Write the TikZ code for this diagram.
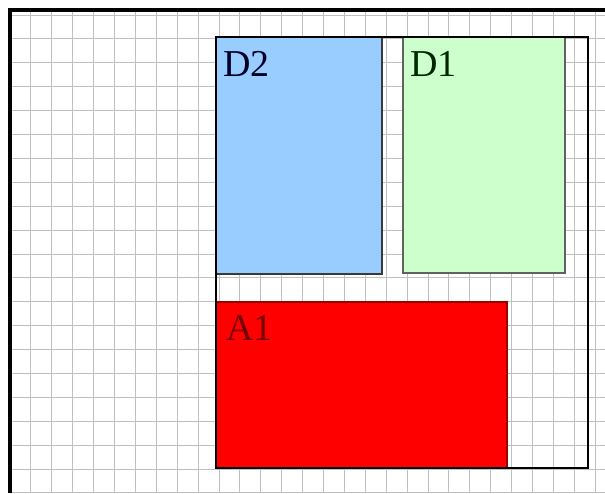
\documentclass[tikz,border=0pt]{standalone}
\usepackage{fontspec}
\setmainfont{Liberation Serif}
\definecolor{gridgray}{HTML}{C0C0C0}
\definecolor{dblue}{HTML}{99CCFF}
\definecolor{dgreen}{HTML}{CCFFCC}
\definecolor{ared}{HTML}{FF0000}
\definecolor{edgegray}{HTML}{3A3A3A}
\tikzset{
  gridline/.style={draw=gridgray, line width=1pt},
  region/.style={draw=edgegray, line width=1.5pt, anchor=north west, inner sep=0pt, outer sep=0pt},
  tag/.style={anchor=base west, inner sep=0pt, font=\fontsize{38}{42}\selectfont},
  container/.style={draw=black, line width=2.5pt, anchor=north west, inner sep=0pt, outer sep=0pt},
}
\begin{document}
\begin{tikzpicture}[x=1pt,y=-1pt]
\useasboundingbox (0,0) rectangle (605,493);
\fill[white] (0,0) rectangle (605,493);
% grid
\foreach \k in {1,...,28} {
  \draw[gridline] ({10+20.9*\k},12) -- ({10+20.9*\k},493);
}
\foreach \k in {0,...,20} {
  \draw[gridline] (12,{15.1+23.89*\k}) -- (605,{15.1+23.89*\k});
}
% outer frame (top and left)
\coordinate (ftr) at (605,10);
\coordinate (ftl) at (10,10);
\coordinate (fbl) at (10,493);
\draw[black, line width=4pt] (ftr) -- (ftl) -- (fbl);
% regions
\node[region, fill=dblue, minimum width=166pt, minimum height=237pt] (D2) at (216,37) {};
\node[region, fill=dgreen, draw=edgegray!80, minimum width=162pt, minimum height=236pt] (D1) at (403,37) {};
\node[region, fill=ared, draw=ared!60!black, minimum width=291pt, minimum height=166pt] (A1) at (216,302) {};
% container
\node[container, minimum width=372pt, minimum height=431pt] (C) at (216,37) {};
% labels
\node[tag, text=black!85!blue] (tD2) at (223,76) {D2};
\node[tag, text=black!85!green] (tD1) at (410,76) {D1};
\node[tag, text=ared!45!black] (tA1) at (226,340) {A1};
\end{tikzpicture}
\end{document}
